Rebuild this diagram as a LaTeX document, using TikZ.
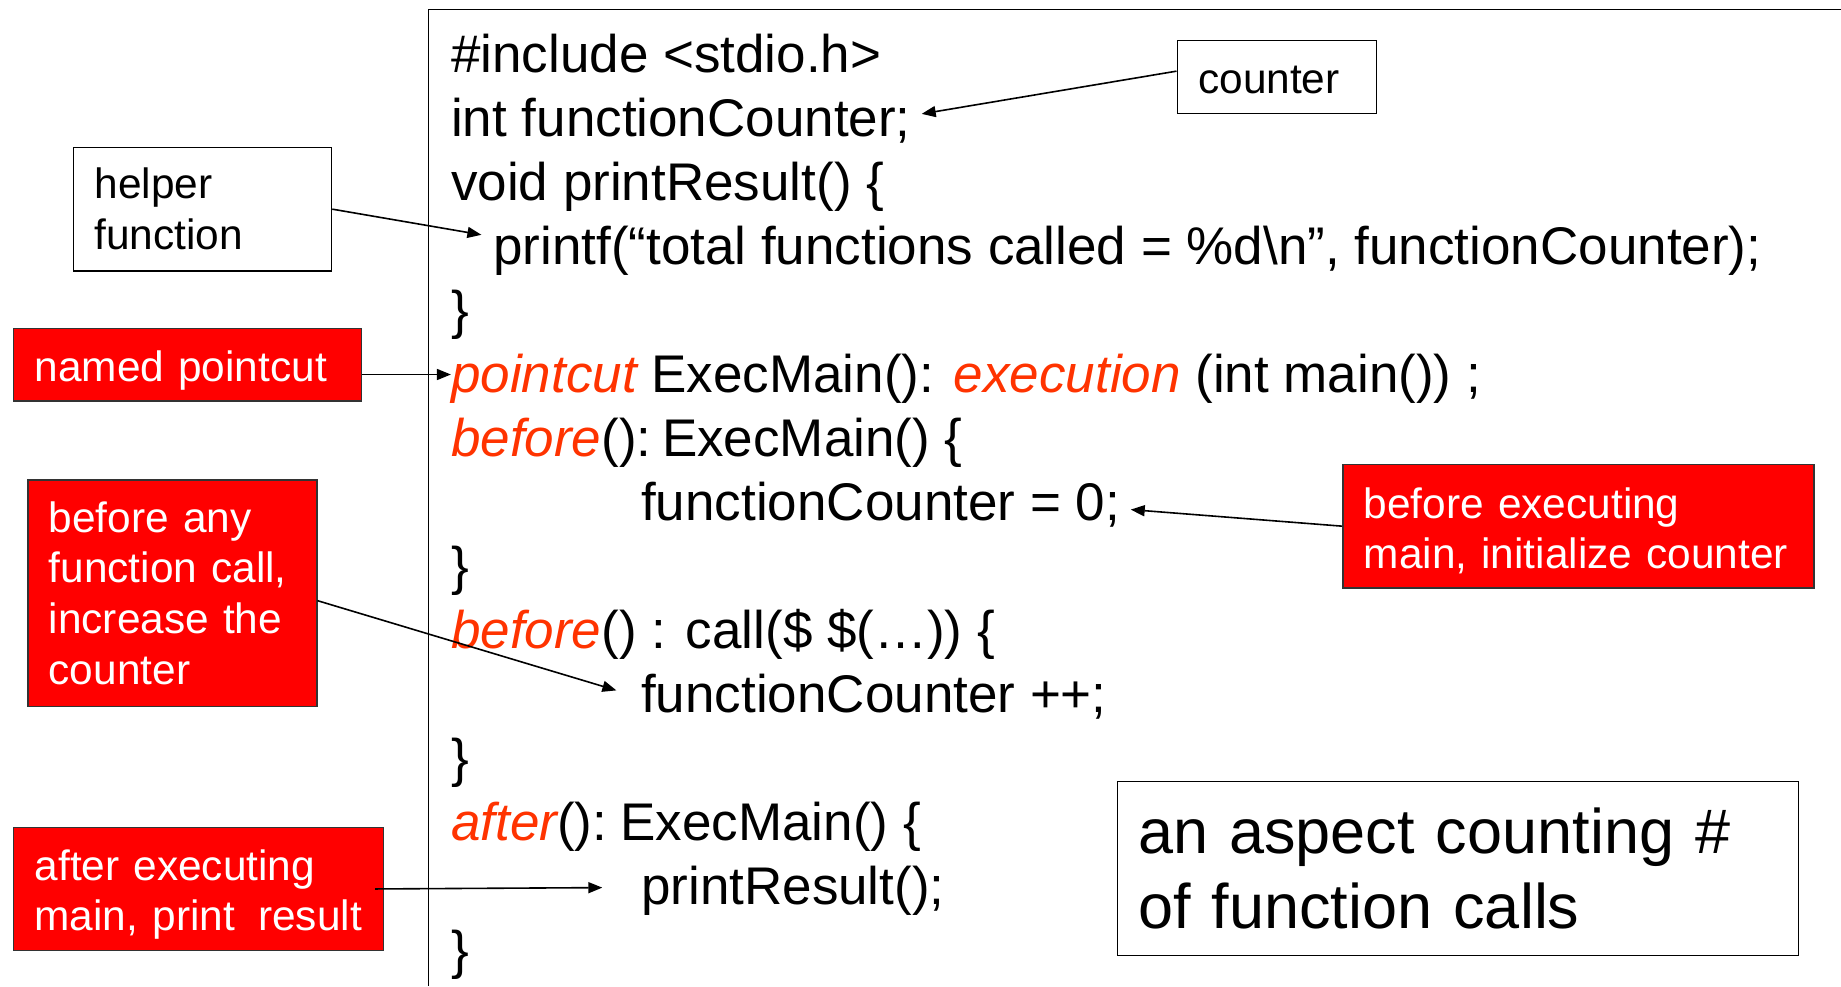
\documentclass[tikz,border=0pt]{standalone}
\usepackage{fontspec}
\setmainfont{Liberation Sans}
\usetikzlibrary{arrows.meta,calc}
\definecolor{kw}{RGB}{255,51,0}
\definecolor{boxred}{RGB}{255,0,0}
\newcommand\myhstrut[1]{\rule{0pt}{#1}}
\begin{document}
\begin{tikzpicture}[x=1pt,y=-1pt,
  code/.style={anchor=base west, inner sep=0pt, font=\fontsize{53}{64}\selectfont},
  note/.style={draw=black, line width=1.5pt, inner xsep=21pt, inner ysep=0pt, align=left,
    font=\fontsize{42.4}{50.8}\selectfont, anchor=north west},
  rednote/.style={note, fill=boxred, draw=black!80, text=white},
  arr/.style={line width=1.6pt, -{Triangle[length=14pt,width=11pt]}},
]
\useasboundingbox (0,0) rectangle (1841,986);
% frame
\draw[line width=1.5pt] (1841,9.4) -- (428.5,9.4) -- (428.5,986);
% code
\node[code] (l1) at (451,72.8) {\#include <stdio.h>};
\node[code] (l2) at (451,136.8) {int functionCounter;};
\node[code] (l3) at (451,200.8) {void printResult() \{};
\node[code] (l4) at (493,264.8) {printf(“total functions called = \%d\textbackslash n”, functionCounter);};
\node[code] (l5) at (451,328.8) {\}};
\node[code] (l6) at (451,392.8) {\textcolor{kw}{\itshape pointcut} ExecMain(): \textcolor{kw}{\itshape execution} (int main()) ;};
\node[code] (l7) at (451,456.8) {\textcolor{kw}{\itshape before}():\hspace{0.2em}ExecMain() \{};
\node[code] (l8) at (641,520.8) {functionCounter = 0;};
\node[code] (l9) at (451,584.8) {\}};
\node[code] (l10) at (451,648.8) {\textcolor{kw}{\itshape before}() : call(\$ \$(…)) \{};
\node[code] (l11) at (641,712.8) {functionCounter ++;};
\node[code] (l12) at (451,776.8) {\}};
\node[code] (l13) at (451,840.8) {\textcolor{kw}{\itshape after}():\hspace{0.25em}ExecMain() \{};
\node[code] (l14) at (641,904.8) {printResult();};
\node[code] (l15) at (451,968.8) {\}};
% notes
\node[note, text width=157pt, minimum height=72.8pt] (counter) at (1176.5,39.9) {\myhstrut{34pt}\mbox{counter}};
\node[note, text width=216pt, minimum height=123.2pt] (helper) at (72.8,146.8) {\mbox{helper}\\\mbox{function}};
\node[rednote, text width=306pt, minimum height=72.8pt] (np) at (12.9,327.6) {\myhstrut{42pt}\mbox{named pointcut}};
\node[rednote, text width=247pt, minimum height=226.6pt] (ba) at (27,479) {\mbox{before any}\\\mbox{function call,}\\\mbox{increase the}\\\mbox{counter}};
\node[rednote, text width=429pt, minimum height=123.2pt] (be) at (1342,463.8) {\myhstrut{40pt}\mbox{before executing}\\\mbox{main, initialize counter}};
\node[rednote, text width=328pt, minimum height=123.2pt] (ae) at (12.9,826.6) {\myhstrut{42pt}\mbox{after executing}\\\mbox{main, print\hspace{0.55em}result}};
\node[note, text width=639pt, minimum height=173.7pt, font=\fontsize{63}{75.1}\selectfont] (aspect) at (1116.6,780.8) {\mbox{an aspect counting \#}\\\mbox{of function calls}};
% arrow targets
\coordinate (t1) at (921.7,113.9);
\coordinate (t2) at (481.4,234.8);
\coordinate (t3) at (450.9,374.5);
\coordinate (t4) at (616.4,690.4);
\coordinate (t5) at (1130.7,509.6);
\coordinate (t6) at (602.3,887.6);
% arrows
\draw[arr] ([yshift=5.9pt]counter.west) -- (t1);
\draw[arr] (helper.east) -- (t2);
\draw[arr] (np.east |- t3) -- (t3);
\draw[arr] ([yshift=-7.6pt]ba.east) -- (t4);
\draw[arr] (be.west) -- (t5);
\draw[arr] ([xshift=-9.4pt]ae.east) -- (t6);
\end{tikzpicture}
\end{document}
